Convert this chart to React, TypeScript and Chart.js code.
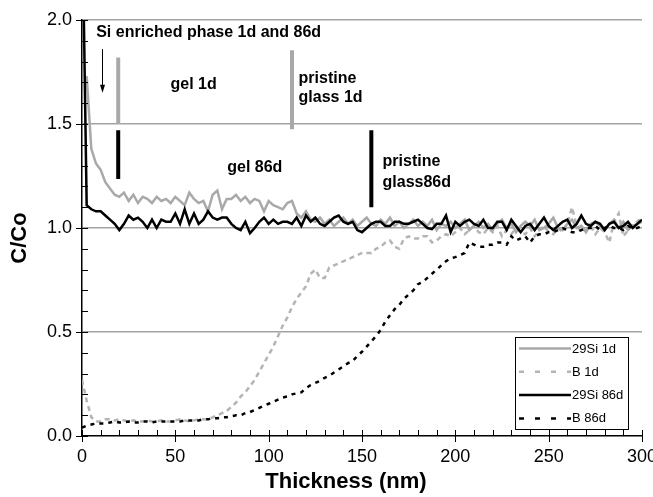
import React, { useEffect, useRef } from "react";
import { Chart, registerables } from "chart.js";

Chart.register(...registerables);

const FONT = "'Liberation Sans', Arial, Helvetica, sans-serif";

// Thickness grid (nm)
const THICKNESS = [
  0, 2.5, 5, 7.5, 10, 12.5, 15, 17.5, 20, 22.5,
  25, 27.5, 30, 32.5, 35, 37.5, 40, 42.5, 45, 47.5,
  50, 52.5, 55, 57.5, 60, 62.5, 65, 67.5, 70, 72.5,
  75, 77.5, 80, 82.5, 85, 87.5, 90, 92.5, 95, 97.5,
  100, 102.5, 105, 107.5, 110, 112.5, 115, 117.5, 120, 122.5,
  125, 127.5, 130, 132.5, 135, 137.5, 140, 142.5, 145, 147.5,
  150, 152.5, 155, 157.5, 160, 162.5, 165, 167.5, 170, 172.5,
  175, 177.5, 180, 182.5, 185, 187.5, 190, 192.5, 195, 197.5,
  200, 202.5, 205, 207.5, 210, 212.5, 215, 217.5, 220, 222.5,
  225, 227.5, 230, 232.5, 235, 237.5, 240, 242.5, 245, 247.5,
  250, 252.5, 255, 257.5, 260, 262.5, 265, 267.5, 270, 272.5,
  275, 277.5, 280, 282.5, 285, 287.5, 290, 292.5, 295, 297.5,
  300,
];

const SI_1D: (number | null)[] = [
  null, 1.73, 1.38, 1.31, 1.28, 1.22, 1.19, 1.16, 1.15, 1.17,
  1.13, 1.16, 1.12, 1.15, 1.14, 1.12, 1.15, 1.13, 1.14, 1.12,
  1.15, 1.13, 1.11, 1.17, 1.14, 1.12, 1.13, 1.08, 1.16, 1.18,
  1.09, 1.14, 1.14, 1.16, 1.13, 1.15, 1.12, 1.14, 1.13, 1.08,
  1.13, 1.11, 1.10, 1.09, 1.12, 1.13, 1.07, 1.05, 1.08, 1.04,
  1.03, 1.05, 1.02, 1.04, 1.01, 1.03, 1.05, 1.02, 1.04, 1.01,
  1.03, 1.05, 1.02, 1.01, 1.04, 1.02, 1.05, 1.01, 1.03, 1.00,
  1.02, 1.04, 1.01, 1.03, 1.01, 1.04, 0.99, 1.02, 1.01, 1.03,
  1.00, 1.02, 1.04, 0.99, 1.01, 1.03, 1.00, 1.02, 0.99, 1.02,
  1.04, 1.00, 1.02, 0.98, 1.01, 1.03, 1.01, 1.04, 0.99, 1.00,
  1.02, 1.05, 1.00, 0.99, 1.02, 1.04, 1.00, 1.01, 0.98, 1.02,
  1.03, 1.01, 0.99, 1.02, 1.04, 1.00, 1.03, 0.99, 1.01, 1.02,
  1.03,
];

const B_1D = [
  0.27, 0.17, 0.09, 0.07, 0.07, 0.08, 0.08, 0.075, 0.08, 0.075,
  0.07, 0.075, 0.07, 0.07, 0.075, 0.07, 0.07, 0.075, 0.07, 0.07,
  0.075, 0.08, 0.075, 0.07, 0.075, 0.08, 0.08, 0.08, 0.09, 0.10,
  0.11, 0.12, 0.14, 0.16, 0.19, 0.21, 0.24, 0.27, 0.31, 0.35,
  0.39, 0.43, 0.48, 0.53, 0.57, 0.62, 0.66, 0.69, 0.72, 0.78,
  0.80, 0.76, 0.76, 0.81, 0.82, 0.83, 0.84, 0.85, 0.86, 0.87,
  0.88, 0.88, 0.88, 0.90, 0.91, 0.93, 0.94, 0.91, 0.90, 0.95,
  0.96, 0.95, 0.95, 0.96, 0.96, 0.93, 0.94, 0.96, 0.97, 0.96,
  0.98, 1.00, 0.97, 0.99, 1.01, 0.98, 0.97, 1.00, 0.98, 1.01,
  0.96, 0.99, 0.97, 1.00, 0.98, 0.97, 1.00, 0.96, 0.99, 1.01,
  0.98, 0.97, 1.00, 0.98, 1.02, 1.10, 1.01, 0.98, 0.99, 1.01,
  0.97, 1.00, 0.98, 0.93, 1.03, 1.07, 0.96, 0.99, 1.02, 1.03,
  1.05,
];

const SI_86D = [
  2.6, 1.11, 1.09, 1.08, 1.08, 1.06, 1.04, 1.02, 0.99, 1.02,
  1.06, 1.04, 1.05, 1.03, 1.00, 1.04, 1.00, 1.04, 1.03, 1.03,
  1.07, 1.02, 1.09, 1.02, 1.07, 1.02, 1.04, 1.08, 1.05, 1.04,
  1.05, 1.05, 1.02, 1.00, 0.99, 1.03, 0.975, 1.00, 1.03, 1.05,
  1.02, 1.04, 1.02, 1.03, 1.03, 1.02, 1.05, 1.01, 1.06, 1.03,
  1.05, 1.02, 1.01, 1.03, 1.05, 1.06, 1.03, 1.02, 1.03, 0.99,
  0.98, 1.00, 1.02, 1.03, 1.03, 1.01, 1.01, 1.03, 1.03, 1.02,
  1.02, 1.03, 1.04, 1.02, 1.00, 0.995, 1.02, 1.02, 1.06, 0.98,
  1.03, 1.01, 1.03, 1.04, 1.02, 1.01, 1.04, 1.00, 1.00, 1.03,
  1.03, 0.99, 1.04, 1.01, 0.98, 1.01, 1.02, 0.99, 1.02, 1.05,
  1.01, 0.99, 1.01, 1.03, 1.04, 1.00, 1.02, 1.06, 1.02, 1.01,
  1.03, 1.02, 0.99, 1.02, 1.03, 1.00, 1.01, 1.03, 1.00, 1.02,
  1.04,
];

const B_86D = [
  0.04, 0.05, 0.055, 0.06, 0.06, 0.06, 0.065, 0.07, 0.065, 0.065,
  0.07, 0.065, 0.065, 0.07, 0.07, 0.065, 0.07, 0.07, 0.07, 0.07,
  0.07, 0.07, 0.075, 0.075, 0.075, 0.075, 0.08, 0.08, 0.085, 0.085,
  0.09, 0.09, 0.095, 0.10, 0.10, 0.11, 0.115, 0.125, 0.135, 0.145,
  0.155, 0.165, 0.175, 0.185, 0.19, 0.20, 0.205, 0.21, 0.23, 0.245,
  0.255, 0.265, 0.28, 0.29, 0.305, 0.32, 0.335, 0.35, 0.36, 0.385,
  0.405, 0.43, 0.455, 0.48, 0.51, 0.55, 0.58, 0.61, 0.63, 0.66,
  0.68, 0.70, 0.73, 0.74, 0.76, 0.78, 0.80, 0.82, 0.84, 0.855,
  0.86, 0.87, 0.88, 0.93, 0.92, 0.91, 0.91, 0.92, 0.92, 0.93,
  0.93, 0.92, 0.96, 0.94, 0.95, 0.96, 0.93, 0.96, 0.97, 0.97,
  0.98, 0.98, 0.99, 1.00, 0.99, 0.98, 0.98, 0.99, 1.00, 1.00,
  1.01, 0.99, 1.00, 1.01, 1.00, 1.00, 0.99, 1.01, 1.00, 1.00,
  1.01,
];

const SERIES_LABELS = ["29Si 1d", "B 1d", "29Si 86d", "B 86d"];
const X_TITLE = "Thickness (nm)";
const Y_TITLE = "C/Co";

// Zone boundary markers (thickness, C/Co from, C/Co to)
const BOUNDARY_X = [19.4, 19.4, 112.5, 155];
const BOUNDARY_TOP = [1.82, 1.47, 1.855, 1.47];
const BOUNDARY_BOTTOM = [1.5, 1.235, 1.475, 1.1];

// Text notes (anchored at thickness / C/Co)
const NOTE_TEXT = ["Si enriched phase 1d and 86d", "gel 1d", "pristine", "glass 1d", "gel 86d", "pristine", "glass86d"];
const NOTE_X = [7.6, 47.4, 116, 116, 77.8, 161, 161];
const NOTE_Y = [1.94, 1.69, 1.72, 1.625, 1.29, 1.32, 1.22];

// Arrow below the "Si enriched" note
const ARROW_X = 10.7;
const ARROW_Y = [1.86, 1.65];

const X_MIN = 0, X_MAX = 300, X_MAJOR = 50, X_MINOR = 10;
const Y_MIN = 0, Y_MAX = 2, Y_MAJOR = 0.5, Y_MINOR = 0.1;

const GRAY = "#a9a9a9";
const GRAY_DASH = "#b4b4b4";
const LEGEND_DASH = [[], [5, 11], [], [5, 11]];

const toPoints = (ys: (number | null)[]) =>
  THICKNESS.map((x, i) => ({ x, y: ys[i] })).filter((p) => p.y !== null);

const tickMarksPlugin = {
  id: "tickMarks",
  afterDraw(chart: any) {
    const { ctx, chartArea, scales } = chart;
    const { left, bottom } = chartArea;
    const x = scales.x, y = scales.y;
    ctx.save();
    ctx.strokeStyle = "#000";
    ctx.lineWidth = 1;
    const nx = Math.round((X_MAX - X_MIN) / X_MINOR);
    for (let i = 0; i <= nx; i++) {
      const v = X_MIN + i * X_MINOR;
      const major = Math.abs(v / X_MAJOR - Math.round(v / X_MAJOR)) < 1e-6;
      const px = Math.round(x.getPixelForValue(v)) + 0.5;
      ctx.beginPath();
      ctx.moveTo(px, bottom - 6);
      ctx.lineTo(px, major ? bottom + 6 : bottom);
      ctx.stroke();
    }
    const ny = Math.round((Y_MAX - Y_MIN) / Y_MINOR);
    for (let i = 0; i <= ny; i++) {
      const v = Y_MIN + i * Y_MINOR;
      const major = Math.abs(v / Y_MAJOR - Math.round(v / Y_MAJOR)) < 1e-6;
      const py = Math.round(y.getPixelForValue(v)) + 0.5;
      ctx.beginPath();
      ctx.moveTo(major ? left - 6 : left, py);
      ctx.lineTo(left + 6, py);
      ctx.stroke();
    }
    // axis titles
    ctx.fillStyle = "#000";
    ctx.font = `bold 22px ${FONT}`;
    ctx.textAlign = "center";
    ctx.textBaseline = "middle";
    ctx.fillText(X_TITLE, 346, 482);
    ctx.save();
    ctx.translate(20, 238);
    ctx.rotate(-Math.PI / 2);
    ctx.fillText(Y_TITLE, 0, 0);
    ctx.restore();
    ctx.restore();
  },
};

const notesPlugin = {
  id: "notes",
  afterDatasetsDraw(chart: any) {
    const { ctx, scales } = chart;
    const x = scales.x, y = scales.y;
    ctx.save();
    ctx.fillStyle = "#000";
    ctx.font = `bold 16px ${FONT}`;
    ctx.textAlign = "left";
    ctx.textBaseline = "middle";
    NOTE_TEXT.forEach((t, i) => {
      ctx.fillText(t, x.getPixelForValue(NOTE_X[i]), y.getPixelForValue(NOTE_Y[i]));
    });
    // arrow
    const ax = Math.round(x.getPixelForValue(ARROW_X)) + 0.5;
    const ay0 = y.getPixelForValue(ARROW_Y[0]);
    const ay1 = y.getPixelForValue(ARROW_Y[1]);
    ctx.strokeStyle = "#000";
    ctx.lineWidth = 1;
    ctx.beginPath();
    ctx.moveTo(ax, ay0);
    ctx.lineTo(ax, ay1 - 6);
    ctx.stroke();
    ctx.beginPath();
    ctx.moveTo(ax - 2.5, ay1 - 8);
    ctx.lineTo(ax + 2.5, ay1 - 8);
    ctx.lineTo(ax, ay1);
    ctx.closePath();
    ctx.fill();
    ctx.restore();
  },
};

const legendPlugin = {
  id: "boxLegend",
  afterDraw(chart: any) {
    const { ctx, chartArea } = chart;
    const w = 113, h = 92;
    const r = Math.round(chartArea.right - 14);
    const b = Math.round(chartArea.bottom - 7);
    const l = r - w, t = b - h;
    ctx.save();
    ctx.fillStyle = "#fff";
    ctx.fillRect(l, t, w, h);
    ctx.strokeStyle = "#000";
    ctx.lineWidth = 1;
    ctx.strokeRect(l + 0.5, t + 0.5, w, h);
    ctx.font = `13px ${FONT}`;
    ctx.textAlign = "left";
    ctx.textBaseline = "middle";
    SERIES_LABELS.forEach((label, i) => {
      const ds = chart.data.datasets[i];
      const yy = t + 11.5 + i * 23.3;
      ctx.strokeStyle = ds.borderColor;
      ctx.lineWidth = ds.borderWidth;
      ctx.setLineDash(LEGEND_DASH[i]);
      ctx.beginPath();
      ctx.moveTo(l + 4, yy);
      ctx.lineTo(l + 56, yy);
      ctx.stroke();
      ctx.setLineDash([]);
      ctx.fillStyle = "#000";
      ctx.fillText(label, l + 57, yy + 0.5);
    });
    ctx.restore();
  },
};

export default function App() {
  const canvasRef = useRef<HTMLCanvasElement | null>(null);

  useEffect(() => {
    const canvas = canvasRef.current;
    if (!canvas) return;
    Chart.defaults.font.family = FONT;

    const seriesDatasets = [
      { label: SERIES_LABELS[0], data: toPoints(SI_1D), borderColor: GRAY, borderWidth: 2.5, borderDash: [], order: 3 },
      { label: SERIES_LABELS[1], data: toPoints(B_1D), borderColor: GRAY_DASH, borderWidth: 2.5, borderDash: [5, 4], order: 4 },
      { label: SERIES_LABELS[2], data: toPoints(SI_86D), borderColor: "#000", borderWidth: 2.5, borderDash: [], order: 1 },
      { label: SERIES_LABELS[3], data: toPoints(B_86D), borderColor: "#000", borderWidth: 2.5, borderDash: [4, 5], order: 2 },
    ];
    const boundaryColors = [GRAY, "#000", GRAY, "#000"];
    const boundaryDatasets = BOUNDARY_X.map((bx, i) => ({
      label: "boundary" + i,
      data: [
        { x: bx, y: BOUNDARY_TOP[i] },
        { x: bx, y: BOUNDARY_BOTTOM[i] },
      ],
      borderColor: boundaryColors[i],
      borderWidth: 4,
      borderCapStyle: "butt",
      order: 0,
    }));

    const chart = new Chart(canvas, {
      type: "line",
      data: { datasets: [...seriesDatasets, ...boundaryDatasets] as any },
      options: {
        animation: false,
        responsive: false,
        devicePixelRatio: 1,
        layout: { padding: { top: 20, right: 11, bottom: 0, left: 0 } },
        plugins: { legend: { display: false }, tooltip: { enabled: false } },
        elements: { point: { radius: 0 }, line: { tension: 0, fill: false } },
        scales: {
          x: {
            type: "linear",
            min: X_MIN,
            max: X_MAX,
            ticks: { stepSize: X_MAJOR, color: "#000", padding: 10, maxRotation: 0, font: { size: 18 } },
            grid: { display: false, drawTicks: false },
            border: { display: true, color: "#000", width: 1.5 },
            title: { display: false },
            afterFit: (s: any) => {
              s.height = 61;
              s.paddingLeft = 0;
              s.paddingRight = 0;
            },
          },
          y: {
            type: "linear",
            min: Y_MIN,
            max: Y_MAX,
            ticks: {
              stepSize: Y_MAJOR,
              color: "#000",
              padding: 10,
              font: { size: 18 },
              callback: (v: any) => Number(v).toFixed(1),
            },
            grid: {
              drawTicks: false,
              lineWidth: 1.5,
              color: (c: any) => (c.tick && c.tick.value === 0 ? "rgba(0,0,0,0)" : "#a3a3a3"),
            },
            border: { display: true, color: "#000", width: 1.5 },
            title: { display: false },
            afterFit: (s: any) => {
              s.width = 82;
              s.paddingTop = 0;
              s.paddingBottom = 0;
            },
          },
        },
      } as any,
      plugins: [tickMarksPlugin, notesPlugin, legendPlugin],
    });

    return () => chart.destroy();
  }, []);

  return (
    <div style={{ position: "fixed", left: 0, top: 0, width: 653, height: 497, background: "#fff" }}>
      <canvas ref={canvasRef} width={653} height={497} style={{ display: "block" }} />
    </div>
  );
}
